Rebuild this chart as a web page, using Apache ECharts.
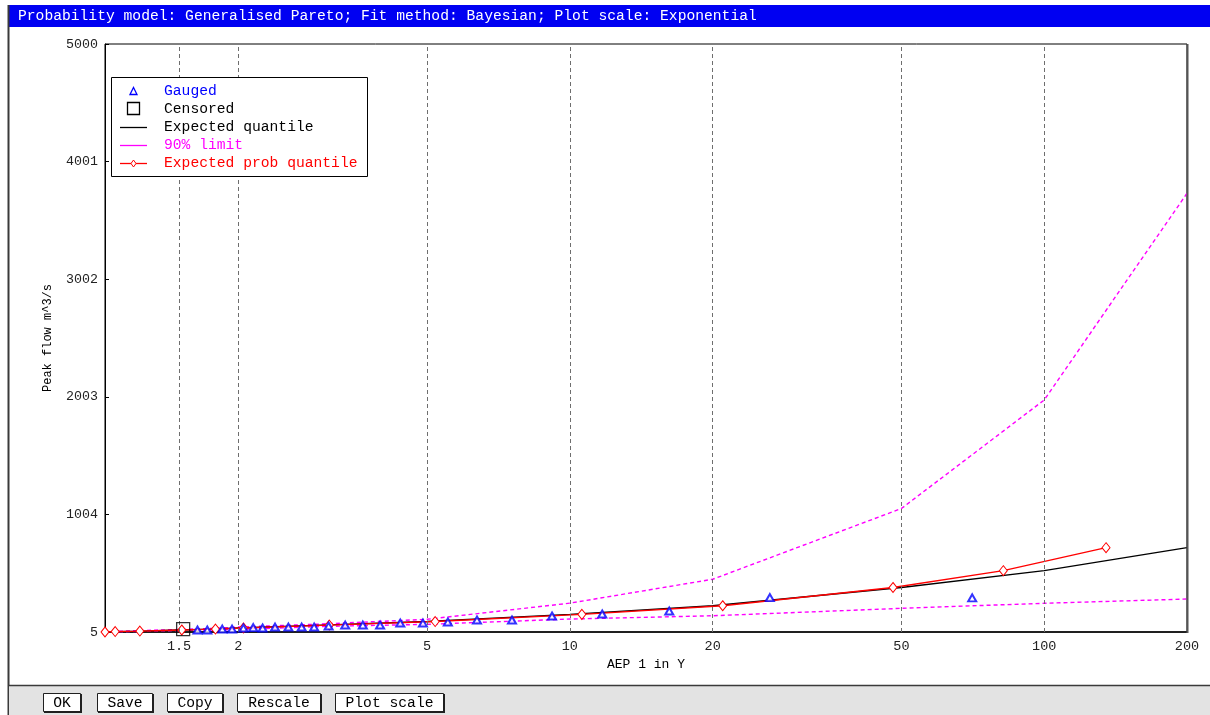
<!DOCTYPE html>
<html>
<head>
<meta charset="utf-8">
<script src="https://cdn.jsdelivr.net/npm/echarts@6/dist/echarts.min.js"></script>
<style>
  html, body { margin: 0; padding: 0; background: #ffffff; }
  #chart { width: 1210px; height: 715px; }
</style>
</head>
<body>
<div id="chart"></div>
<script>
// Frequency plot: Generalised Pareto fit, exponential (log return period) scale
const titleText = 'Probability model: Generalised Pareto; Fit method: Bayesian; Plot scale: Exponential';
const xTicks = [1.5, 2, 5, 10, 20, 50, 100, 200];
const gridYears = [1.5, 2, 5, 10, 20, 50, 100];
const yTicks = [5, 1004, 2003, 3002, 4001, 5000];

// Observed peaks (return period in years, flow m^3/s)
const gaugedYears = [1.64, 1.72, 1.85, 1.94, 2.05, 2.15, 2.25, 2.39, 2.55, 2.72, 2.89, 3.10, 3.36, 3.66, 3.98, 4.39, 4.90, 5.53, 6.37, 7.55, 9.17, 11.7, 16.2, 26.4, 70.5];
const gaugedFlow = [22, 22, 30, 30, 39, 42, 39, 47, 47, 47, 47, 56, 64, 64, 64, 81, 81, 90, 107, 107, 141, 158, 183, 297, 295];
const censoredYears = [1.53];
const censoredFlow = [30];

// Fitted quantiles
const quantileYears = [1.047, 1.1, 1.25, 1.5, 1.75, 2, 3, 5, 10, 20, 50, 100, 200];
const expectedQuantile = [5, 9, 13, 22, 30, 39, 64, 94, 155, 228, 383, 526, 721];
const upper90 = [5, 10, 18, 26, 35, 47, 73, 113, 250, 453, 1054, 1976, 3732];
const lower90 = [5, 5, 10, 18, 22, 26, 52, 70, 115, 143, 206, 249, 285];

// Expected probability quantiles
const probYears = [1.047, 1.1, 1.24, 1.52, 1.79, 2.05, 3.11, 5.2, 10.6, 21.0, 48, 82, 135];
const probQuantile = [5, 9, 13, 22, 30, 39, 64, 94, 155, 228, 383, 526, 721];

const buttonLabels = ['OK', 'Save', 'Copy', 'Rescale', 'Plot scale'];
const legendLabels = ['Gauged', 'Censored', 'Expected quantile', '90% limit', 'Expected prob quantile'];

const MONO = '"Liberation Mono", "DejaVu Sans Mono", monospace';
const pairs = (xs, ys) => xs.map((x, i) => [x, ys[i]]);

// ---- window chrome and legend drawn as graphic elements ----
const graphics = [];
graphics.push({ type: 'rect', silent: true, z: 0, shape: { x: 8, y: 5, width: 1202, height: 22 }, style: { fill: '#0000f2' } });
graphics.push({ type: 'text', silent: true, z: 1, style: { text: titleText, x: 18, y: 16.5, fill: '#ffffff', fontSize: 14.67, fontFamily: MONO, verticalAlign: 'middle' } });
graphics.push({ type: 'line', silent: true, shape: { x1: 8.5, y1: 5, x2: 8.5, y2: 715 }, style: { stroke: '#3a3a3a', lineWidth: 2 } });
graphics.push({ type: 'rect', silent: true, shape: { x: 9, y: 685, width: 1201, height: 30 }, style: { fill: '#e3e3e3' } });
graphics.push({ type: 'line', silent: true, shape: { x1: 8, y1: 685.5, x2: 1210, y2: 685.5 }, style: { stroke: '#3a3a3a', lineWidth: 1.5 } });
// heavier right edge of the plot frame
graphics.push({ type: 'line', silent: true, z: 20, shape: { x1: 1187.5, y1: 44, x2: 1187.5, y2: 633 }, style: { stroke: '#555555', lineWidth: 2 } });

const buttonBoxes = [[43, 37], [97, 55], [167, 55], [237, 83], [335, 108]];
buttonLabels.forEach((lab, i) => {
  const [bx, bw] = buttonBoxes[i];
  graphics.push({ type: 'rect', silent: true, shape: { x: bx + 0.5, y: 693.5, width: bw, height: 18 }, style: { fill: '#ffffff', stroke: '#202020', lineWidth: 1 } });
  graphics.push({ type: 'polyline', silent: true, shape: { points: [[bx + 1, 712], [bx + bw + 1, 712], [bx + bw + 1, 694]] }, style: { stroke: '#202020', lineWidth: 2, fill: null } });
  graphics.push({ type: 'text', silent: true, style: { text: lab, x: bx + bw / 2 + 0.5, y: 703, fill: '#000000', fontSize: 14.67, fontFamily: MONO, align: 'center', verticalAlign: 'middle' } });
});

// legend box
const LX = 111, LY = 77;
graphics.push({ type: 'rect', silent: true, z: 10, shape: { x: LX + 0.5, y: LY + 0.5, width: 256, height: 99 }, style: { fill: '#ffffff', stroke: '#000000', lineWidth: 1 } });
const legendColors = ['#0000ff', '#000000', '#000000', '#ff00ff', '#ff0000'];
legendLabels.forEach((lab, i) => {
  const cy = LY + 14 + i * 18;
  graphics.push({ type: 'text', silent: true, z: 11, style: { text: lab, x: 164, y: cy, fill: legendColors[i], fontSize: 14.67, fontFamily: MONO, verticalAlign: 'middle' } });
  if (i === 0) {
    graphics.push({ type: 'polygon', silent: true, z: 11, shape: { points: [[130, cy + 3.5], [133.5, cy - 3.5], [137, cy + 3.5]] }, style: { fill: '#ffffff', stroke: '#0000ff', lineWidth: 1.3 } });
  } else if (i === 1) {
    graphics.push({ type: 'rect', silent: true, z: 11, shape: { x: 127.5, y: cy - 6.5, width: 12, height: 12 }, style: { fill: '#ffffff', stroke: '#000000', lineWidth: 1.3 } });
  } else {
    graphics.push({ type: 'line', silent: true, z: 11, shape: { x1: 120, y1: cy + 0.5, x2: 147, y2: cy + 0.5 }, style: { stroke: legendColors[i], lineWidth: 1.3 } });
    if (i === 4) {
      graphics.push({ type: 'polygon', silent: true, z: 12, shape: { points: [[133.5, cy - 3], [136, cy + 0.5], [133.5, cy + 4], [131, cy + 0.5]] }, style: { fill: '#ffffff', stroke: '#ff0000', lineWidth: 1 } });
    }
  }
});

const chart = echarts.init(document.getElementById('chart'), null, { renderer: 'canvas' });
chart.setOption({
  backgroundColor: '#ffffff',
  animation: false,
  grid: { left: 105, right: 23, top: 44, bottom: 83, show: true, borderColor: '#000000', borderWidth: 1, backgroundColor: 'transparent' },
  xAxis: {
    type: 'log', logBase: 10, min: 1.047, max: 200,
    name: 'AEP 1 in Y', nameLocation: 'middle', nameGap: 21,
    nameTextStyle: { color: '#000000', fontSize: 13, fontFamily: MONO },
    axisLine: { show: true, lineStyle: { color: '#000000', width: 1.5 } },
    axisTick: { show: true, inside: true, length: 4, customValues: xTicks, lineStyle: { color: '#000000' } },
    axisLabel: { customValues: xTicks, color: '#222222', fontSize: 13.5, fontFamily: MONO, margin: 7, formatter: v => String(v) },
    splitLine: { show: false }, minorTick: { show: false }
  },
  yAxis: {
    type: 'value', min: 5, max: 5000,
    name: 'Peak flow m^3/s', nameLocation: 'middle', nameGap: 51, nameRotate: 90,
    nameTextStyle: { color: '#000000', fontSize: 12, fontFamily: MONO },
    axisLine: { show: true, lineStyle: { color: '#000000', width: 1 } },
    axisTick: { show: true, inside: true, length: 4, customValues: yTicks, lineStyle: { color: '#000000' } },
    axisLabel: { customValues: yTicks, color: '#222222', fontSize: 13.3, fontFamily: MONO, margin: 7, formatter: v => String(v) },
    splitLine: { show: false }
  },
  graphic: { elements: graphics },
  series: [
    {
      name: 'grid', type: 'line', data: [], z: 1, silent: true,
      markLine: {
        silent: true, symbol: ['none', 'none'], label: { show: false },
        lineStyle: { color: '#6e6e6e', type: [4, 3], width: 1 },
        data: gridYears.map(v => ({ xAxis: v }))
      }
    },
    {
      name: 'Expected quantile', type: 'line', data: pairs(quantileYears, expectedQuantile), z: 3,
      showSymbol: false, symbol: 'none', lineStyle: { color: '#000000', width: 1.3 }
    },
    {
      name: '90% limit', type: 'line', data: pairs(quantileYears, upper90), z: 2,
      showSymbol: false, symbol: 'none', lineStyle: { color: '#ff00ff', width: 1.4, type: [4, 3] }
    },
    {
      name: '90% limit lower', type: 'line', data: pairs(quantileYears, lower90), z: 2,
      showSymbol: false, symbol: 'none', lineStyle: { color: '#ff00ff', width: 1.4, type: [4, 3] }
    },
    {
      name: 'Expected prob quantile', type: 'line', data: pairs(probYears, probQuantile), z: 4,
      symbol: 'diamond', symbolSize: [8, 10], showSymbol: true,
      itemStyle: { color: '#ffffff', borderColor: '#ff0000', borderWidth: 1 }, lineStyle: { color: '#ff0000', width: 1.3 }
    },
    {
      name: 'Gauged', type: 'scatter', data: pairs(gaugedYears, gaugedFlow), z: 5,
      symbol: 'emptyTriangle', symbolSize: [8, 7], itemStyle: { color: '#0000ff', borderWidth: 1.2 }
    },
    {
      name: 'Censored', type: 'scatter', data: pairs(censoredYears, censoredFlow), z: 6,
      symbol: 'rect', symbolSize: 13, itemStyle: { color: 'rgba(0,0,0,0)', borderColor: '#000000', borderWidth: 1.3 }
    }
  ]
});
</script>
</body>
</html>
